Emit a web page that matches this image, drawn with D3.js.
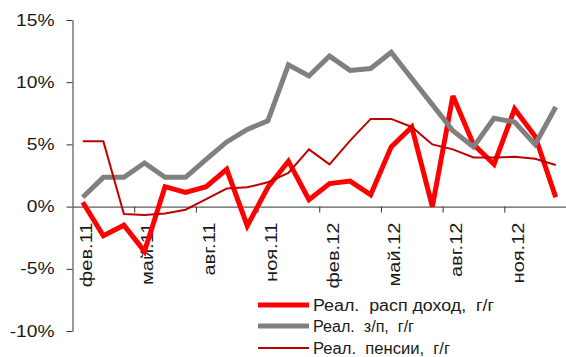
<!DOCTYPE html>
<html><head><meta charset="utf-8">
<script src="https://cdn.jsdelivr.net/npm/d3@7"></script>
<style>
html,body{margin:0;padding:0;background:#fff;}
text{font-family:"Liberation Sans",Arial,sans-serif;fill:#1a1a1a;}
</style></head>
<body><svg id="c" width="566" height="357"></svg>
<script>
const categories = ["фев.11","мар.11","апр.11","май.11","июн.11","июл.11","авг.11","сен.11","окт.11","ноя.11","дек.11","янв.12",
                    "фев.12","мар.12","апр.12","май.12","июн.12","июл.12","авг.12","сен.12","окт.12","ноя.12","дек.12","янв.13"];
const income   = [0.35,-2.35,-1.5,-3.6,1.6,1.15,1.6,3.0,-1.55,1.55,3.65,0.55,1.85,2.05,0.95,4.8,6.4,0.0,8.9,5.0,3.4,7.85,5.65,0.75];
const wages    = [0.75,2.35,2.35,3.5,2.35,2.35,3.8,5.2,6.2,6.9,11.4,10.5,12.1,10.95,11.1,12.4,10.3,8.2,6.1,4.8,7.1,6.8,5.0,8.0];
const pensions = [5.25,5.25,-0.6,-0.67,-0.55,-0.25,0.6,1.45,1.55,1.95,2.7,4.6,3.4,5.3,7.05,7.05,6.4,5.0,4.6,3.95,3.95,4.0,3.85,3.35];
const yTicks = [-10,-5,0,5,10,15];
const seriesNames = ["Реал.  расп доход,  г/г","Реал.  з/п,  г/г","Реал.  пенсии,  г/г"];

const svg = d3.select("#c");
const x0 = 72.5, x1 = 566, yTop = 20, yBot = 331;
const x = d3.scaleBand().domain(categories).range([x0, x1]).padding(0);
const xi = d3.scaleLinear().domain([0, categories.length]).range([x0, x1]);
const y = d3.scaleLinear().domain([-10, 15]).range([yBot, yTop]);

function stretch(sel, f){ sel.each(function(){ const L=this.getComputedTextLength(); this.setAttribute("textLength", L*f); this.setAttribute("lengthAdjust","spacingAndGlyphs"); }); }

// Y axis
const ya = svg.append("g").attr("transform",`translate(${x0},0)`)
  .call(d3.axisLeft(y).tickValues(yTicks).tickFormat(d=>d+"%").tickSize(6).tickSizeOuter(0).tickPadding(12));
ya.select(".domain").attr("stroke","#333");
ya.selectAll(".tick line").attr("stroke","#333");
ya.selectAll("text").attr("font-size",16).attr("fill","#1a1a1a").attr("font-family","Liberation Sans, Arial");
stretch(ya.selectAll("text"), 1.2);

// X axis ticks (boundaries every 3 categories)
const xa = svg.append("g").attr("transform",`translate(0,${y(0)})`)
  .call(d3.axisBottom(xi).tickValues(d3.range(3, categories.length+1, 3)).tickFormat("").tickSize(6).tickSizeOuter(0));
xa.select(".domain").attr("stroke","#333");
xa.selectAll(".tick line").attr("stroke","#333");

// X labels
const labelCats = categories.filter((d,i)=>i%3===0);
const xl = svg.append("g");
xl.selectAll("text").data(labelCats).join("text")
  .attr("transform", d=>`translate(${x(d)+x.bandwidth()/2+9},${y(0)+16}) rotate(-90)`)
  .attr("text-anchor","end").attr("font-size",16).text(d=>d);
stretch(xl.selectAll("text"), 1.25);

// lines
const line = d3.line().x((d,i)=>x(categories[i])+x.bandwidth()/2).y(d=>y(d));
const styles = [
  {data:income, color:"#ff0000", w:5},
  {data:wages, color:"#808080", w:5},
  {data:pensions, color:"#c00000", w:2}
];
styles.forEach(s=>{
  svg.append("path").datum(s.data).attr("d",line).attr("fill","none")
    .attr("stroke",s.color).attr("stroke-width",s.w).attr("stroke-linejoin","miter").attr("stroke-miterlimit",3);
});

// legend
const lg = svg.append("g");
const legW = [181,101,137];
const legY = [305, 326, 348];
styles.forEach((s,i)=>{
  lg.append("line").attr("x1",258).attr("x2",309).attr("y1",legY[i]).attr("y2",legY[i])
    .attr("stroke",s.color).attr("stroke-width",s.w);
  lg.append("text").attr("x",313).attr("y",legY[i]+5.5).attr("font-size",16)
    .style("white-space","pre").attr("textLength",legW[i]).attr("lengthAdjust","spacingAndGlyphs")
    .text(seriesNames[i]);
});
</script></body></html>
